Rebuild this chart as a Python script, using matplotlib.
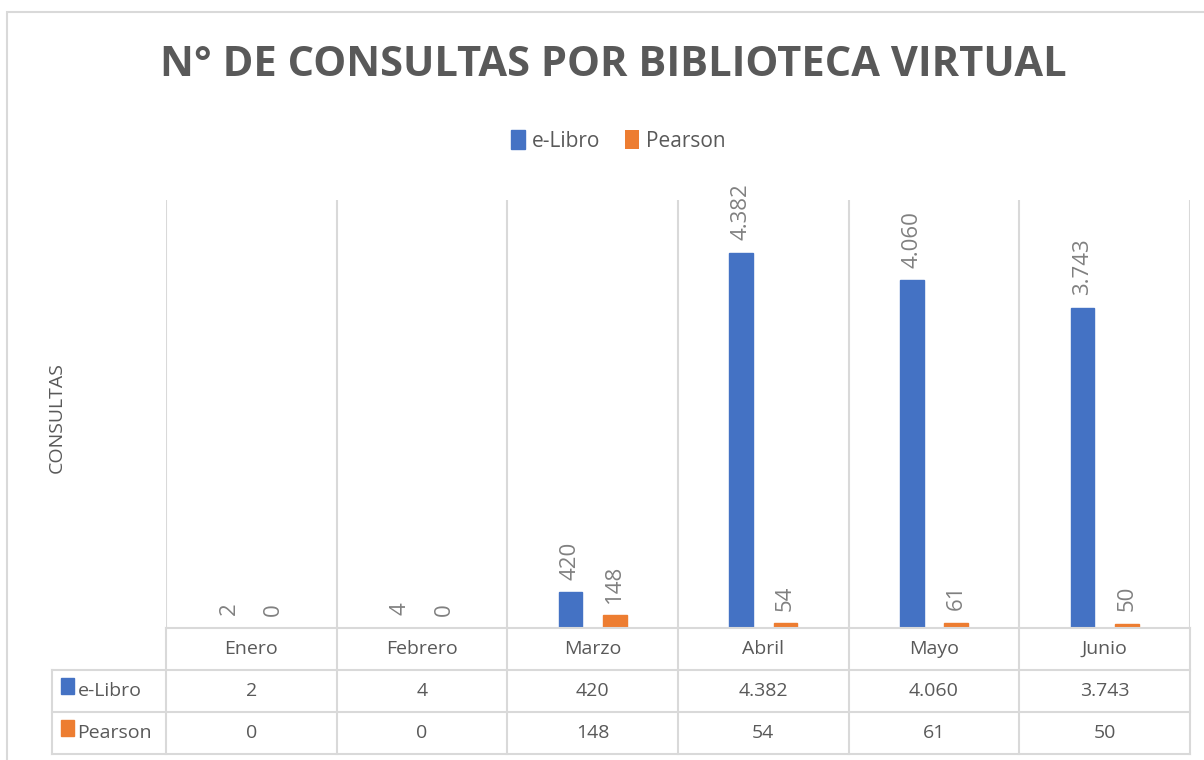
import numpy as np
import matplotlib.pyplot as plt
from matplotlib.patches import Rectangle

meses = ["Enero", "Febrero", "Marzo", "Abril", "Mayo", "Junio"]
elibro = [2, 4, 420, 4382, 4060, 3743]
pearson = [0, 0, 148, 54, 61, 50]
series = ["e-Libro", "Pearson"]
colores = ["#4472C4", "#ED7D31"]

plt.rcParams["font.family"] = ["Open Sans", "DejaVu Sans"]
txt = "#595959"
grid = "#D9D9D9"


def fmt(v):
    return f"{v:,}".replace(",", ".")


W, H = 1204, 760
fig = plt.figure(figsize=(W / 100, H / 100), dpi=100)

# outer chart border
fig.add_artist(Rectangle((7 / W, -0.1), 1.1, 1 - 12 / H + 0.1,
                         transform=fig.transFigure, fill=False,
                         edgecolor=grid, linewidth=1.5))

x0, x1, ytop, ybase, ytab = 166, 1190, 200, 628, 754
ax = fig.add_axes([x0 / W, 1 - ybase / H, (x1 - x0) / W, (ybase - ytop) / H])

x = np.arange(len(meses))
w = 0.14
off = 0.13

for i, (vals, nombre, c) in enumerate(zip([elibro, pearson], series, colores)):
    pos = x + (off if i else -off)
    ax.bar(pos, vals, width=w, color=c, label=nombre, zorder=3,
           edgecolor=c, linewidth=[1.0 if v > 0 else 0 for v in vals])
    for p, v in zip(pos, vals):
        ax.annotate(fmt(v), (p, v), xytext=(0, 9), textcoords="offset points",
                    rotation=90, ha="center", va="bottom",
                    fontsize=16, color="#808080")

ax.set_xlim(-0.5, len(meses) - 0.5)
ax.set_ylim(0, 5000)
for b in np.arange(-0.5, len(meses), 1.0):
    ax.axvline(b, color=grid, linewidth=1.5, zorder=1)
for s in ax.spines.values():
    s.set_visible(False)
ax.set_xticks([])
ax.set_yticks([])

fig.text(57 / W, 1 - 418 / H, "CONSULTAS", rotation=90,
         ha="center", va="center", fontsize=14, color=txt)

# data table below the plot
tab = fig.add_axes([x0 / W, 1 - ytab / H, (x1 - x0) / W, (ytab - ybase) / H])
tab.set_xlim(-0.5, len(meses) - 0.5)
tab.set_ylim(0, 3)
tab.axis("off")
lw = 1.5
left = -0.5 - (x0 - 52) / ((x1 - x0) / len(meses))
tab.plot([-0.5, len(meses) - 0.5], [3, 3], color=grid, lw=lw, clip_on=False)
for yy in [2, 1, 0]:
    tab.plot([left, len(meses) - 0.5], [yy, yy], color=grid, lw=lw, clip_on=False)
for b in np.arange(-0.5, len(meses), 1.0):
    tab.plot([b, b], [0, 3], color=grid, lw=lw, clip_on=False)
tab.plot([left, left], [0, 2], color=grid, lw=lw, clip_on=False)

for i, m in enumerate(meses):
    tab.text(i, 2.5, m, ha="center", va="center", fontsize=14, color=txt)
    tab.text(i, 1.5, fmt(elibro[i]), ha="center", va="center", fontsize=14, color=txt)
    tab.text(i, 0.5, fmt(pearson[i]), ha="center", va="center", fontsize=14, color=txt)

for r, (nombre, c) in enumerate(zip(series, colores)):
    yy = 1.5 - r
    tab.add_patch(Rectangle((left + 0.05, yy - 0.08), 0.08, 0.38,
                            color=c, clip_on=False))
    tab.text(left + 0.15, yy, nombre, ha="left", va="center",
             fontsize=14, color=txt, clip_on=False)

fig.text(613 / W, 1 - 66 / H, "N° DE CONSULTAS POR BIBLIOTECA VIRTUAL",
         ha="center", va="center", fontsize=30, fontweight="bold", color=txt)

fig.legend(loc="center", bbox_to_anchor=(618 / W, 1 - 141 / H), ncol=2,
           frameon=False, fontsize=15, labelcolor=txt, handlelength=0.7,
           handleheight=1.0, handletextpad=0.3, columnspacing=1.2)

fig.savefig("out.png", dpi=100)
